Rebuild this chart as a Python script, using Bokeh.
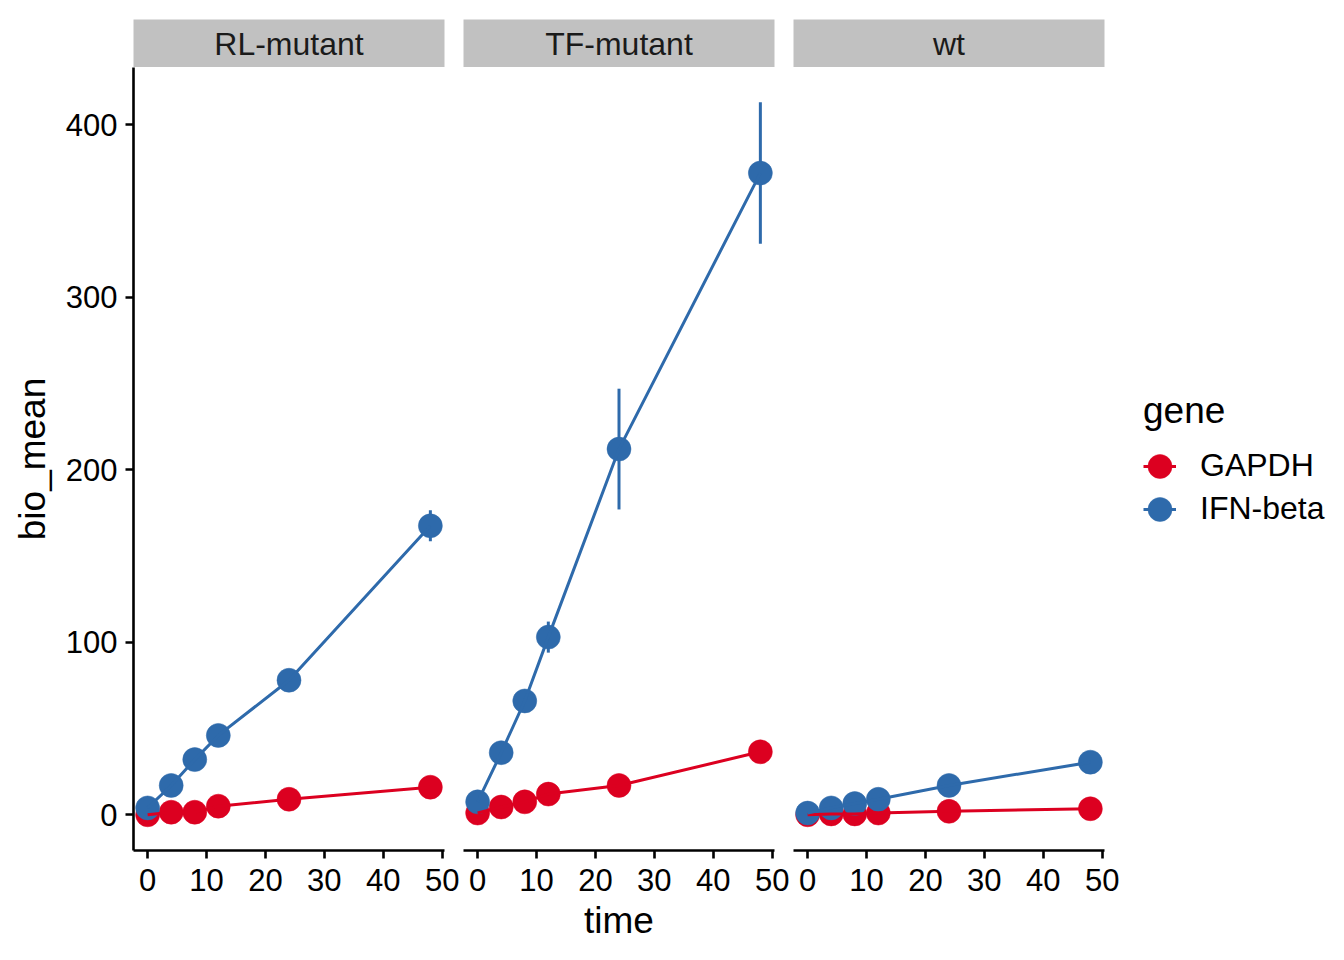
from bokeh.plotting import figure
from bokeh.layouts import row, column
from bokeh.models import ColumnDataSource, Range1d, FixedTicker, Legend, LegendItem, Label
from bokeh.embed import file_html
from bokeh.resources import INLINE

# ---------------- data ----------------
times = [0, 4, 8, 12, 24, 48]
samples = ["RL-mutant", "TF-mutant", "wt"]
genes = ["GAPDH", "IFN-beta"]
colors = ["#DC0020", "#2E6AAB"]

rl_gapdh_mean = [0.0, 1.5, 1.5, 5.0, 9.0, 16.0]
rl_gapdh_sd = [0.3, 0.4, 0.4, 0.8, 1.0, 5.0]
rl_ifn_mean = [4.0, 17.0, 32.0, 46.0, 78.0, 167.5]
rl_ifn_sd = [0.5, 1.0, 1.5, 2.0, 2.0, 9.0]

tf_gapdh_mean = [1.0, 4.5, 7.5, 12.0, 17.0, 36.5]
tf_gapdh_sd = [0.3, 0.5, 0.8, 1.0, 1.0, 1.5]
tf_ifn_mean = [7.5, 36.0, 66.0, 103.0, 212.0, 372.0]
tf_ifn_sd = [1.0, 2.0, 2.5, 9.0, 35.0, 41.0]

wt_gapdh_mean = [0.0, 0.5, 0.5, 1.0, 2.0, 3.5]
wt_gapdh_sd = [0.1, 0.1, 0.1, 0.2, 0.3, 0.5]
wt_ifn_mean = [1.0, 4.0, 6.5, 9.0, 17.0, 30.5]
wt_ifn_sd = [0.2, 0.5, 0.5, 1.0, 1.0, 1.5]

panel_data = {
    "RL-mutant": [(rl_gapdh_mean, rl_gapdh_sd), (rl_ifn_mean, rl_ifn_sd)],
    "TF-mutant": [(tf_gapdh_mean, tf_gapdh_sd), (tf_ifn_mean, tf_ifn_sd)],
    "wt": [(wt_gapdh_mean, wt_gapdh_sd), (wt_ifn_mean, wt_ifn_sd)],
}

x_ticks = [0, 10, 20, 30, 40, 50]
y_ticks = [0, 100, 200, 300, 400]

FONT = "Liberation Sans"
FRAME_W = 311
FRAME_H = 783
STRIP_H = 48
left_borders = [133, 0, 0]
right_borders = [19, 19, 236]

columns = []
for i, name in enumerate(samples):
    # ---- facet strip ----
    s = figure(frame_width=FRAME_W, frame_height=STRIP_H,
               x_range=Range1d(0, 1), y_range=Range1d(0, 1),
               x_axis_location=None, y_axis_location=None,
               min_border_left=left_borders[i], min_border_right=right_borders[i],
               min_border_top=19, min_border_bottom=0,
               toolbar_location=None, output_backend="svg")
    s.background_fill_color = "#C1C1C1"
    s.border_fill_color = "white"
    s.outline_line_color = None
    s.grid.visible = False
    s.add_layout(Label(x=0.5, y=0.5, text=name, text_align="center",
                       text_baseline="middle", text_font=FONT,
                       text_font_size="32px", text_color="#1A1A1A"))

    # ---- panel ----
    p = figure(frame_width=FRAME_W, frame_height=FRAME_H,
               x_range=Range1d(-2.4, 50.4), y_range=Range1d(-20.7, 433.2),
               y_axis_location="left" if i == 0 else None,
               min_border_left=left_borders[i], min_border_right=right_borders[i],
               min_border_top=0, min_border_bottom=100,
               toolbar_location=None, output_backend="svg")
    p.grid.visible = False
    p.outline_line_color = None
    p.background_fill_color = "white"

    sources = []
    for (mean, sd) in panel_data[name]:
        lo = [m - e for m, e in zip(mean, sd)]
        hi = [m + e for m, e in zip(mean, sd)]
        sources.append(ColumnDataSource(dict(time=times, mean=mean, lo=lo, hi=hi)))

    seg_r = []
    for src, c in zip(sources, colors):
        seg_r.append(p.segment(x0="time", y0="lo", x1="time", y1="hi", source=src,
                               line_color=c, line_width=3))
    pt_r = []
    for src, c in zip(sources, colors):
        pt_r.append(p.ellipse(x="time", y="mean", width=24, height=24,
                              width_units="screen", height_units="screen",
                              source=src, fill_color=c, line_color=c, line_width=0.5))
    ln_r = []
    for src, c in zip(sources, colors):
        ln_r.append(p.line(x="time", y="mean", source=src, line_color=c, line_width=3))

    # axes
    for ax in p.axis:
        ax.axis_line_width = 2.6
        ax.axis_line_color = "black"
        ax.major_tick_line_width = 2.6
        ax.major_tick_line_color = "black"
        ax.major_tick_out = 8
        ax.major_tick_in = 0
        ax.minor_tick_out = 0
        ax.minor_tick_in = 0
        ax.major_label_text_font = FONT
        ax.major_label_text_font_size = "31px"
        ax.major_label_text_color = "black"
        ax.axis_label_text_font = FONT
        ax.axis_label_text_font_size = "37px"
        ax.axis_label_text_font_style = "normal"
        ax.axis_label_text_color = "black"
    p.xaxis.ticker = FixedTicker(ticks=x_ticks)
    p.xaxis.major_label_standoff = 10
    if i == 1:
        p.xaxis.axis_label = "time"
        p.xaxis.axis_label_standoff = 6
    if i == 0:
        p.yaxis.ticker = FixedTicker(ticks=y_ticks)
        p.yaxis.axis_label = "bio_mean"
        p.yaxis.major_label_standoff = 8
        p.yaxis.axis_label_standoff = 10

    if i == 2:
        items = []
        for g, lr, er in zip(genes, ln_r, pt_r):
            items.append(LegendItem(label=g, renderers=[lr, er]))
        legend = Legend(items=items, location=(39, 323), title="gene")
        legend.title_text_font = FONT
        legend.title_text_font_size = "37px"
        legend.title_text_font_style = "normal"
        legend.title_text_color = "black"
        legend.title_standoff = 15
        legend.label_text_font = FONT
        legend.label_text_font_size = "32px"
        legend.label_text_color = "black"
        legend.glyph_width = 33
        legend.glyph_height = 30
        legend.label_standoff = 24
        legend.spacing = 6
        legend.padding = 0
        legend.margin = 0
        legend.border_line_color = None
        legend.background_fill_alpha = 0
        p.add_layout(legend, "right")

    columns.append(column(s, p, spacing=0))

layout = row(*columns, spacing=0)

open("out.html", "w").write(file_html(layout, INLINE))
